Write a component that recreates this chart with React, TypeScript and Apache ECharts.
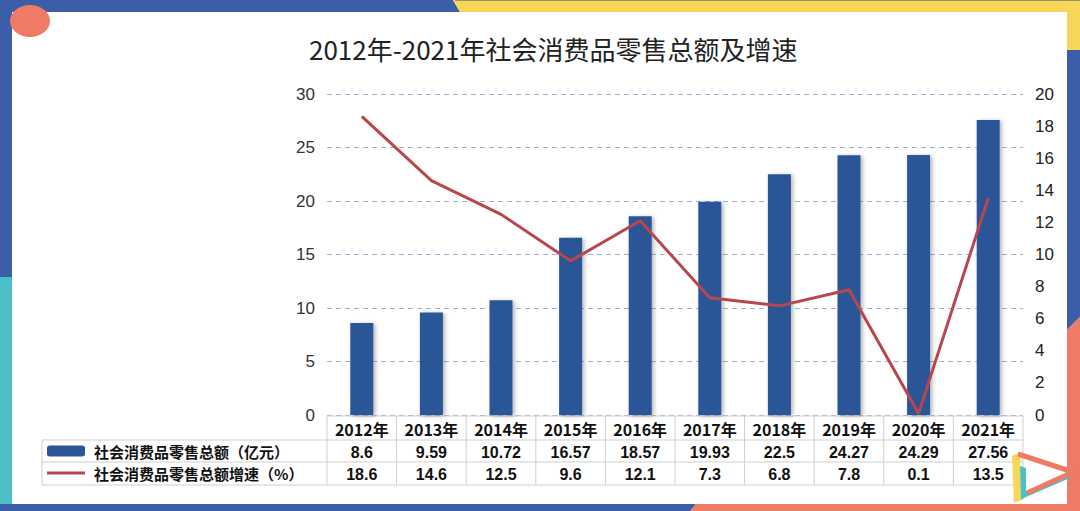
import React, { useEffect, useRef } from "react";
import * as echarts from "echarts";

const titleText = "2012年-2021年社会消费品零售总额及增速";
const years = ["2012年", "2013年", "2014年", "2015年", "2016年", "2017年", "2018年", "2019年", "2020年", "2021年"];
const sales = [8.6, 9.59, 10.72, 16.57, 18.57, 19.93, 22.5, 24.27, 24.29, 27.56];
const growth = [18.6, 14.6, 12.5, 9.6, 12.1, 7.3, 6.8, 7.8, 0.1, 13.5];
const salesName = "社会消费品零售总额（亿元）";
const growthName = "社会消费品零售总额增速（%）";
const leftAxis = { min: 0, max: 30, interval: 5 };
const rightAxis = { min: 0, max: 20, interval: 2 };

const BLUE = "#3c5ea8";
const YELLOW = "#f6d75a";
const TEAL = "#4dbfc8";
const SALMON = "#ef7a66";
const BAR = "#2b5597";
const LINE = "#b8474d";
const CJK = '"Noto Sans CJK SC", "Noto Sans", sans-serif';
const NUM = '"Liberation Sans", Arial, sans-serif';

export default function App() {
  const ref = useRef<HTMLDivElement>(null);
  useEffect(() => {
    const chart = echarts.init(ref.current!, null, { renderer: "svg" });
    chart.setOption({
      animation: false,
      backgroundColor: "#ffffff",
      title: {
        text: titleText,
        left: 304,
        top: 30,
        textStyle: { fontFamily: CJK, fontSize: 26, fontWeight: "normal", color: "#222" },
      },
      grid: { left: 327, right: 57, top: 94, bottom: 96, containLabel: false, outerBoundsMode: "none" },
      legend: {
        orient: "vertical",
        left: 47,
        top: 441,
        padding: 0,
        itemGap: 2,
        itemWidth: 38,
        itemHeight: 11,
        textStyle: { fontFamily: CJK, fontSize: 15, fontWeight: "bold", color: "#111", lineHeight: 20, padding: [0, 0, 0, 4] },
        data: [
          { name: salesName, icon: "roundRect" },
          { name: growthName, icon: "path://M0,0 L40,0 L40,3 L0,3 Z" },
        ],
      },
      xAxis: {
        type: "category",
        data: years,
        axisLine: { show: false },
        axisTick: { show: false },
        axisLabel: { interval: 0, margin: 6, fontFamily: CJK, fontSize: 16, fontWeight: "bold", color: "#111" },
      },
      yAxis: [
        {
          type: "value",
          ...leftAxis,
          axisLine: { show: false },
          axisTick: { show: false },
          axisLabel: { margin: 12, fontFamily: NUM, fontSize: 17, color: "#333" },
          splitLine: { show: true, lineStyle: { type: [5, 4], color: "#a3aed8", width: 1 } },
        },
        {
          type: "value",
          ...rightAxis,
          axisLine: { show: false },
          axisTick: { show: false },
          axisLabel: { margin: 12, fontFamily: NUM, fontSize: 17, color: "#222" },
          splitLine: { show: false },
        },
      ],
      series: [
        {
          name: salesName,
          type: "bar",
          data: sales,
          barWidth: 23,
          itemStyle: {
            color: BAR,
            shadowBlur: 4,
            shadowColor: "rgba(0,0,0,0.3)",
            shadowOffsetX: 2,
            shadowOffsetY: 1,
          },
        },
        {
          name: growthName,
          type: "line",
          yAxisIndex: 1,
          data: growth,
          symbol: "none",
          lineStyle: { color: LINE, width: 3 },
          itemStyle: { color: LINE },
        },
      ],
    });

    const xs = years.map((y) => chart.convertToPixel({ xAxisIndex: 0 }, y) as number);
    const band = xs.length > 1 ? xs[1] - xs[0] : 70;
    const x0 = xs[0] - band / 2;
    const x1 = xs[xs.length - 1] + band / 2;
    const yBase = chart.convertToPixel({ yAxisIndex: 0 }, 0) as number;
    const rowTop = yBase + 1;
    const row1 = rowTop + 24;
    const row2 = row1 + 22;
    const row3 = row2 + 23;
    const legendLeft = 42;
    const gridColor = "#cfcfcf";

    const lineEl = (xa: number, ya: number, xb: number, yb: number) => ({
      type: "line",
      shape: { x1: xa, y1: ya, x2: xb, y2: yb },
      style: { stroke: gridColor, lineWidth: 1 },
      silent: true,
    });

    const tableEls: any[] = [];
    tableEls.push(lineEl(x0, rowTop, x1, rowTop));
    tableEls.push(lineEl(legendLeft, row1, x1, row1));
    tableEls.push(lineEl(legendLeft, row2, x1, row2));
    tableEls.push(lineEl(legendLeft, row3, x1, row3));
    tableEls.push(lineEl(legendLeft, row1, legendLeft, row3));
    for (let k = 0; k <= years.length; k++) {
      const xv = x0 + k * band;
      tableEls.push(lineEl(xv, rowTop, xv, row3));
    }
    years.forEach((_, i) => {
      tableEls.push({
        type: "text",
        silent: true,
        style: {
          text: String(sales[i]),
          x: xs[i],
          y: (row1 + row2) / 2 + 1,
          textAlign: "center",
          textVerticalAlign: "middle",
          fill: "#111",
          font: `bold 16px ${NUM}`,
        },
      });
      tableEls.push({
        type: "text",
        silent: true,
        style: {
          text: String(growth[i]),
          x: xs[i],
          y: (row2 + row3) / 2 + 1,
          textAlign: "center",
          textVerticalAlign: "middle",
          fill: "#111",
          font: `bold 16px ${NUM}`,
        },
      });
    });

    const poly = (points: number[][], fill: string) => ({
      type: "polygon",
      silent: true,
      z: 100,
      shape: { points },
      style: { fill },
    });

    const decor: any[] = [
      poly([[0, 0], [453, 0], [460, 12], [0, 12]], BLUE),
      poly([[453, 0], [1080, 0], [1080, 12], [460, 12]], YELLOW),
      { type: "line", silent: true, z: 101, shape: { x1: 455, y1: 0.5, x2: 1080, y2: 0.5 }, style: { stroke: "#9a9170", lineWidth: 1 } },
      poly([[0, 0], [12, 0], [12, 277], [0, 277]], BLUE),
      poly([[0, 277], [12, 277], [12, 511], [0, 511]], TEAL),
      poly([[1067, 0], [1080, 0], [1080, 50], [1067, 50]], YELLOW),
      poly([[1067, 50], [1080, 50], [1080, 317], [1067, 330]], BLUE),
      poly([[1067, 330], [1080, 317], [1080, 511], [1067, 511]], SALMON),
      poly([[0, 504], [696, 504], [690, 511], [0, 511]], BLUE),
      poly([[696, 504], [1080, 504], [1080, 511], [690, 511]], SALMON),
      { type: "ellipse", silent: true, z: 102, shape: { cx: 30, cy: 21, rx: 20, ry: 16 }, style: { fill: SALMON } },
      // logo
      poly([[1012, 456], [1020, 452], [1021, 500], [1014, 503]], YELLOW),
      poly([[1020, 466], [1026, 468], [1026, 497], [1021, 500]], TEAL),
      poly([[1026, 491], [1068, 474], [1070, 478], [1026, 497]], TEAL),
      { type: "polyline", silent: true, z: 103, shape: { points: [[1018, 454], [1073, 472], [1027, 493]] }, style: { stroke: SALMON, lineWidth: 5, fill: "none" } },
    ];

    chart.setOption({ graphic: [...tableEls, ...decor] });

    return () => chart.dispose();
  }, []);

  return <div ref={ref} style={{ position: "fixed", left: 0, top: 0, width: 1080, height: 511 }} />;
}
